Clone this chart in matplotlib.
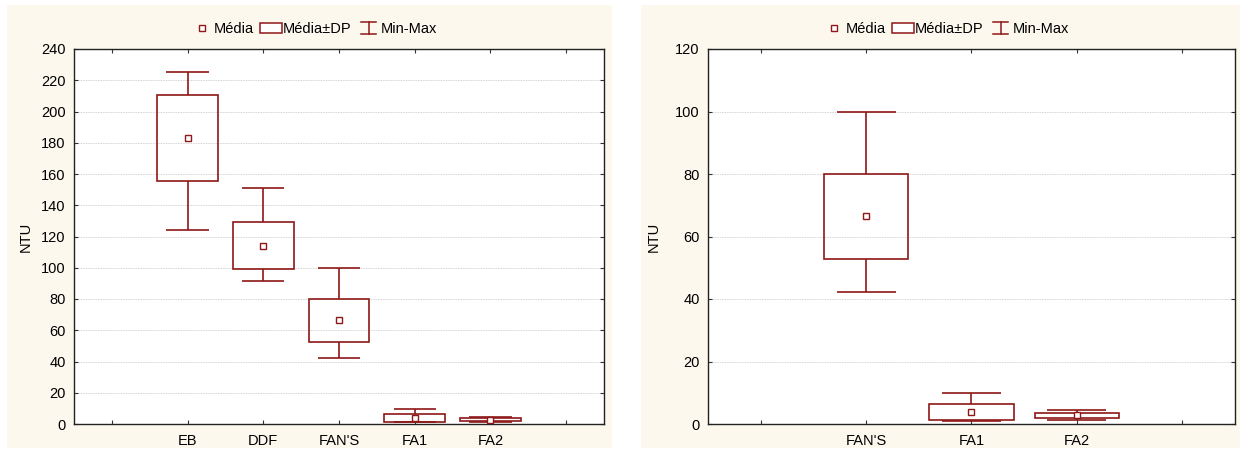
import matplotlib
matplotlib.use("Agg")
import matplotlib.pyplot as plt
from matplotlib.patches import Rectangle, Patch
from matplotlib.lines import Line2D
from matplotlib.legend_handler import HandlerBase

plt.rcParams['font.family'] = ['Liberation Sans', 'DejaVu Sans']

# data (NTU)
categories = ['EB', 'DDF', "FAN'S", 'FA1', 'FA2']
media = [183.0, 114.2, 66.4, 3.8, 2.8]
dp = [27.7, 14.9, 13.6, 2.6, 0.85]
minimo = [124.0, 91.8, 42.3, 1.0, 1.4]
maximo = [225.3, 151.3, 100.0, 9.9, 4.5]

# right panel shows only the last three groups
right_idx = [2, 3, 4]

red = '#8E1818'
cream = '#FCF8EE'


class IBeamHandler(HandlerBase):
    def create_artists(self, legend, orig_handle, xdescent, ydescent,
                       width, height, fontsize, trans):
        cx = width / 2 - xdescent
        w = width * 0.7
        top = height * 1.05 - ydescent
        bot = -ydescent - height * 0.05
        lines = [
            Line2D([cx - w / 2, cx + w / 2], [top, top]),
            Line2D([cx, cx], [bot, top]),
            Line2D([cx - w / 2, cx + w / 2], [bot, bot]),
        ]
        for ln in lines:
            ln.set_color(red)
            ln.set_linewidth(1.1)
            ln.set_transform(trans)
        return lines


def draw_panel(ax, idx, ymax):
    labels = [categories[i] for i in idx]
    pos = list(range(1, len(idx) + 1))
    m = [media[i] for i in idx]
    s = [dp[i] for i in idx]
    lo = [minimo[i] for i in idx]
    hi = [maximo[i] for i in idx]
    low_box = [a - b for a, b in zip(m, s)]
    high_box = [a + b for a, b in zip(m, s)]

    # whiskers
    ax.vlines(pos, high_box, hi, color=red, lw=1.2, zorder=2)
    ax.vlines(pos, lo, low_box, color=red, lw=1.2, zorder=2)
    ax.hlines(hi, [p - 0.28 for p in pos], [p + 0.28 for p in pos], color=red, lw=1.2, zorder=2)
    ax.hlines(lo, [p - 0.28 for p in pos], [p + 0.28 for p in pos], color=red, lw=1.2, zorder=2)
    # mean +/- sd boxes
    ax.bar(pos, [2 * v for v in s], bottom=low_box, width=0.8,
           facecolor='none', edgecolor=red, linewidth=1.2, zorder=3)
    # means
    ax.plot(pos, m, 's', ms=4.5, mfc='white', mec=red, mew=1.0, zorder=4, ls='none')

    ax.set_xlim(-0.5, len(idx) + 1.5)
    ax.set_xticks(range(0, len(idx) + 2))
    ax.set_xticklabels([''] + labels + [''])
    ax.set_ylim(0, ymax)
    ax.set_yticks(range(0, ymax + 1, 20))
    ax.set_ylabel('NTU', fontsize=10.5)
    ax.grid(axis='y', color='#c4c4c4', linestyle=(0, (1, 1)), linewidth=0.6)
    ax.set_axisbelow(True)
    ax.tick_params(axis='x', direction='in', top=True, bottom=True, length=3,
                   labelsize=10.5, pad=7, color='#333333')
    ax.tick_params(axis='y', direction='in', left=True, right=True, length=3,
                   labelsize=10.5, pad=6, color='#333333')
    for sp in ax.spines.values():
        sp.set_color('#222222')
        sp.set_linewidth(1.0)
    ax.set_zorder(2)


fig = plt.figure(figsize=(12.4, 4.53), dpi=100, facecolor='white')

# cream panel backgrounds
for x0, w in ((7, 605), (641, 599)):
    fig.patches.append(Rectangle((x0 / 1240, 5 / 453), w / 1240, 443 / 453,
                                 transform=fig.transFigure, facecolor=cream,
                                 edgecolor='none', zorder=-5))

ax1 = fig.add_axes([74 / 1240, 29 / 453, 530 / 1240, 375 / 453])
ax2 = fig.add_axes([708 / 1240, 29 / 453, 527 / 1240, 375 / 453])

draw_panel(ax1, list(range(len(categories))), 240)
draw_panel(ax2, right_idx, 120)

ax1.yaxis.labelpad = 6
ax2.yaxis.labelpad = 10

for cx in (314, 946):
    h_mean = Line2D([], [], marker='s', ms=4.5, mfc='white', mec=red, mew=1.0, ls='none')
    h_box = Patch(facecolor='white', edgecolor=red, linewidth=1.1)
    h_mm = Line2D([], [])
    fig.legend([h_mean, h_box, h_mm], ['Média', 'Média±DP', 'Min-Max'],
               handler_map={h_mm: IBeamHandler()},
               loc='center', bbox_to_anchor=(cx / 1240, 1 - 29 / 453), ncol=3,
               frameon=False, fontsize=10.5, handlelength=1.5, handletextpad=0.1,
               columnspacing=0.4, borderpad=0)

fig.savefig('out.png', dpi=100, facecolor='white')
